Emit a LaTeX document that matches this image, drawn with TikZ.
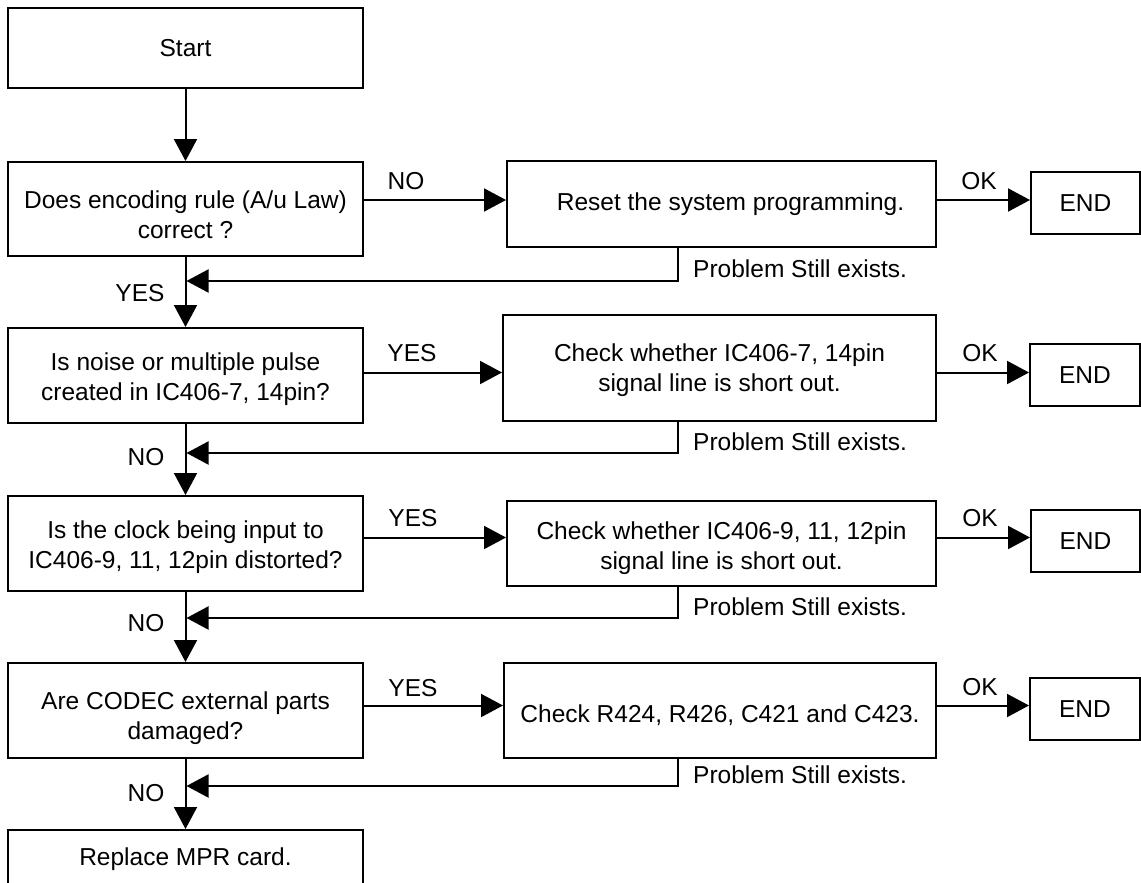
\documentclass[tikz,border=0pt]{standalone}
\usepackage{fontspec}
\setmainfont{Liberation Sans}
\usetikzlibrary{arrows.meta}
\begin{document}
\begin{tikzpicture}[x=1pt,y=-1pt,
  txt/.style={font=\fontsize{24.5}{30}\selectfont},
  box/.style={draw,line width=2pt,inner sep=0pt,align=center,txt},
  btxt/.style={txt,inner sep=0pt,align=center},
  lbl/.style={inner sep=0pt,txt},
  arr/.style={line width=2pt,-{Triangle[length=22pt,width=23pt]}},
  ln/.style={line width=2pt}]
\useasboundingbox (0,0) rectangle (1141,883);
% left column
\node[box,minimum width=355pt,minimum height=80pt] (start) at (185.5,48) {Start};
\node[box,minimum width=355pt,minimum height=94pt,
  label={[btxt,yshift=-6pt]center:Does encoding rule (A/u Law)\\correct ?}] (q1) at (185.5,209) {};
\node[box,minimum width=355pt,minimum height=95pt,
  label={[btxt,yshift=-4pt]center:Is noise or multiple pulse\\created in IC406-7, 14pin?}] (q2) at (185.5,375.5) {};
\node[box,minimum width=355pt,minimum height=95pt,
  label={[btxt,yshift=-4pt]center:Is the clock being input to\\IC406-9, 11, 12pin distorted?}] (q3) at (185.5,543.5) {};
\node[box,minimum width=355pt,minimum height=95pt,
  label={[btxt,yshift=-8pt]center:Are CODEC external parts\\damaged?}] (q4) at (185.5,710.5) {};
\node[box,minimum width=355pt,minimum height=58pt] (fin) at (185.5,859) {Replace MPR card.};
% middle column
\node[box,minimum width=429pt,minimum height=86pt,
  label={[btxt,xshift=9pt]center:Reset the system programming.}] (a1) at (721.5,204) {};
\node[box,minimum width=433pt,minimum height=106pt,
  label={[btxt,yshift=-2pt]center:Check whether IC406-7, 14pin\\signal line is short out.}] (a2) at (719.5,368) {};
\node[box,minimum width=429pt,minimum height=85pt,
  label={[btxt,yshift=-5pt]center:Check whether IC406-9, 11, 12pin\\signal line is short out.}] (a3) at (721.5,543.5) {};
\node[box,minimum width=432pt,minimum height=95pt,
  label={[btxt,yshift=-5pt]center:Check R424, R426, C421 and C423.}] (a4) at (720,710.5) {};
% END boxes
\node[box,minimum width=109pt,minimum height=62pt] (e1) at (1085.5,203) {END};
\node[box,minimum width=110pt,minimum height=62pt] (e2) at (1085,375) {END};
\node[box,minimum width=109pt,minimum height=62pt] (e3) at (1085.5,541) {END};
\node[box,minimum width=110pt,minimum height=62pt] (e4) at (1085,709) {END};
% vertical arrows
\draw[arr] (start.south) -- (q1.north);
\draw[arr] (q1.south) -- (q2.north);
\draw[arr] (q2.south) -- (q3.north);
\draw[arr] (q3.south) -- (q4.north);
\draw[arr] (q4.south) -- (fin.north);
% horizontal levels
\coordinate (h1) at (0,200);
\coordinate (h2) at (0,372.5);
\coordinate (h3) at (0,537.5);
\coordinate (h4) at (0,705.5);
\draw[arr] (q1.east |- h1) -- (a1.west |- h1);
\draw[arr] (q2.east |- h2) -- (a2.west |- h2);
\draw[arr] (q3.east |- h3) -- (a3.west |- h3);
\draw[arr] (q4.east |- h4) -- (a4.west |- h4);
\draw[arr] (a1.east |- h1) -- (e1.west |- h1);
\draw[arr] (a2.east |- h2) -- (e2.west |- h2);
\draw[arr] (a3.east |- h3) -- (e3.west |- h3);
\draw[arr] (a4.east |- h4) -- (e4.west |- h4);
% feedback lines
\coordinate (f1) at (678,281);   \coordinate (m1) at (186.5,281);
\coordinate (f2) at (678,453);   \coordinate (m2) at (186.5,453);
\coordinate (f3) at (678,618);   \coordinate (m3) at (186.5,618);
\coordinate (f4) at (678,786);   \coordinate (m4) at (186.5,786);
\draw[arr] (a1.south -| f1) |- (m1);
\draw[arr] (a2.south -| f2) |- (m2);
\draw[arr] (a3.south -| f3) |- (m3);
\draw[arr] (a4.south -| f4) |- (m4);
% labels
\node[lbl] (l1) at (406,181) {NO};
\node[lbl] (l2) at (412,353) {YES};
\node[lbl] (l3) at (413,518) {YES};
\node[lbl] (l4) at (413,688) {YES};
\node[lbl] (k1) at (979,181) {OK};
\node[lbl] (k2) at (980,353) {OK};
\node[lbl] (k3) at (980,518) {OK};
\node[lbl] (k4) at (980,687) {OK};
\node[lbl] (v1) at (140,293) {YES};
\node[lbl] (v2) at (146,457) {NO};
\node[lbl] (v3) at (146,623) {NO};
\node[lbl] (v4) at (146,793) {NO};
\node[lbl,anchor=west] (p1) at (693,269) {Problem Still exists.};
\node[lbl,anchor=west] (p2) at (693,442) {Problem Still exists.};
\node[lbl,anchor=west] (p3) at (693,607) {Problem Still exists.};
\node[lbl,anchor=west] (p4) at (693,775) {Problem Still exists.};
\end{tikzpicture}
\end{document}
